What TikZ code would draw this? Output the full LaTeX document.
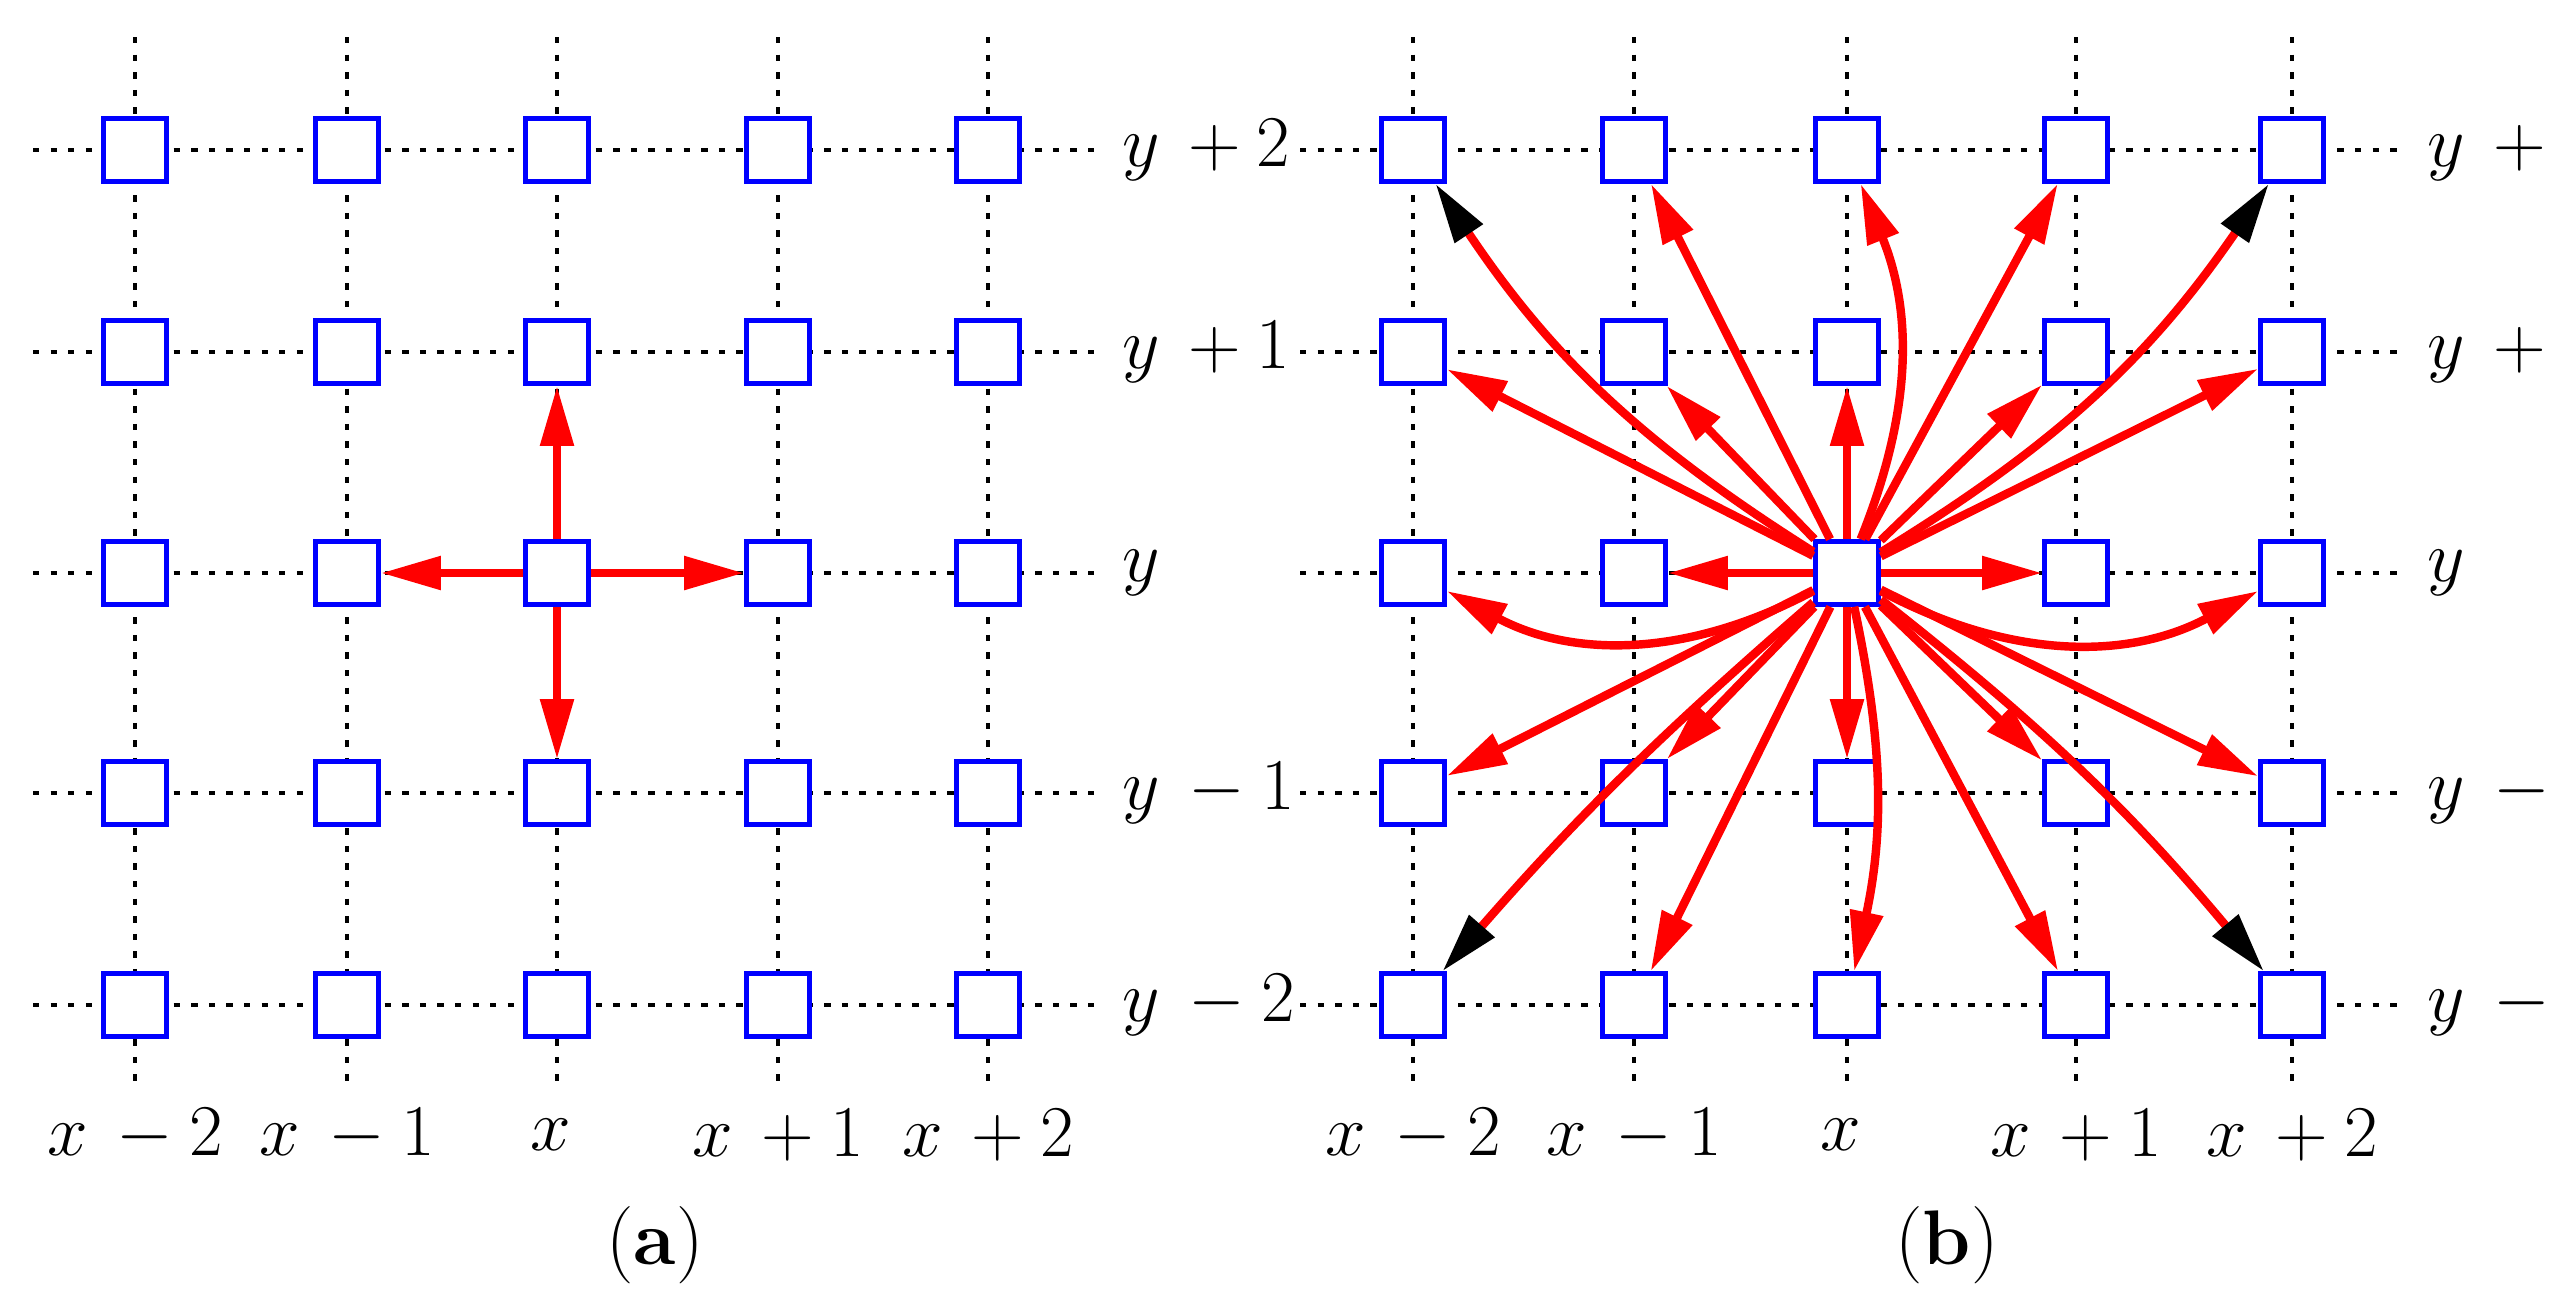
\documentclass[tikz,border=0pt]{standalone}
\usepackage{tikz}
\usetikzlibrary{arrows.meta}

\tikzset{
    cell/.style={draw=blue, fill=white, line width=1.3pt, minimum size=0.63cm, inner sep=0pt},
    grid/.style={line width=1.4pt, dash pattern=on 1.8pt off 3.2pt},
    move/.style={red, line width=2.4pt, -{Triangle[length=0.6cm,width=0.32cm]}},
    lbl/.style={font=\fontsize{22}{24}\selectfont}
}

\begin{document}
\begin{tikzpicture}[x=0.01cm, y=-0.01cm]

    %% Background
    \useasboundingbox (0,0) rectangle (2549,1305);

    % Panel (a)
    \foreach \c in {135,347,557,778,988}
        \draw[grid] (\c,37) -- (\c,1090);
    \foreach \r in {150,352,573,793,1005}
        \draw[grid] (33,\r) -- (1099,\r);
    \foreach \c [count=\i from 0] in {135,347,557,778,988}
        \foreach \r [count=\j from 0] in {150,352,573,793,1005}
            \node[cell] (a-\i-\j) at (\c,\r) {};

    \foreach \i/\j in {1/2,3/2,2/1,2/3}
        \draw[move] (a-2-2) -- (a-\i-\j);

    % Panel (b)
    \foreach \c in {1413,1634,1847,2076,2292}
        \draw[grid] (\c,37) -- (\c,1090);
    \foreach \r in {150,352,573,793,1005}
        \draw[grid] (1300,\r) -- (2400,\r);
    \foreach \c [count=\i from 0] in {1413,1634,1847,2076,2292}
        \foreach \r [count=\j from 0] in {150,352,573,793,1005}
            \node[cell] (b-\i-\j) at (\c,\r) {};

    \foreach \i/\j/\bnd/\tip in {
        0/0/12/black, 1/0/0/red, 2/0/-22/red, 3/0/0/red, 4/0/-12/black,
        0/1/0/red, 1/1/0/red, 2/1/0/red, 3/1/0/red, 4/1/0/red,
        0/2/28/red, 1/2/0/red, 3/2/0/red, 4/2/-28/red,
        0/3/0/red, 1/3/0/red, 2/3/0/red, 3/3/0/red, 4/3/0/red,
        0/4/-4/black, 1/4/0/red, 2/4/12/red, 3/4/0/red, 4/4/6/black}
        \draw[move, -{Triangle[length=0.6cm,width=0.32cm,color=\tip]}]
        (b-2-2) to[bend left=\bnd] (b-\i-\j);

    % Labels
    \foreach \t/\r/\j in {{+2}/150/0,{+1}/352/1,{}/573/2,{-1}/793/3,{-2}/1005/4} {
        \node[lbl, anchor=west] (ya-\j) at (1110,\r) {$y\,\t$};
        \node[lbl, anchor=west] (yb-\j) at (2415,\r) {$y\,\t$};
    }
    \foreach \t/\c/\d in {{-2}/135/1413,{-1}/347/1634,{}/557/1847,{+1}/778/2076,{+2}/988/2292} {
        \node[lbl] (xa-\c) at (\c,1135) {$x\,\t$};
        \node[lbl] (xb-\d) at (\d,1135) {$x\,\t$};
    }
    \node[lbl] (cap-a) at (655,1245) {(\textbf{a})};
    \node[lbl] (cap-b) at (1947,1245) {(\textbf{b})};

\end{tikzpicture}
\end{document}
